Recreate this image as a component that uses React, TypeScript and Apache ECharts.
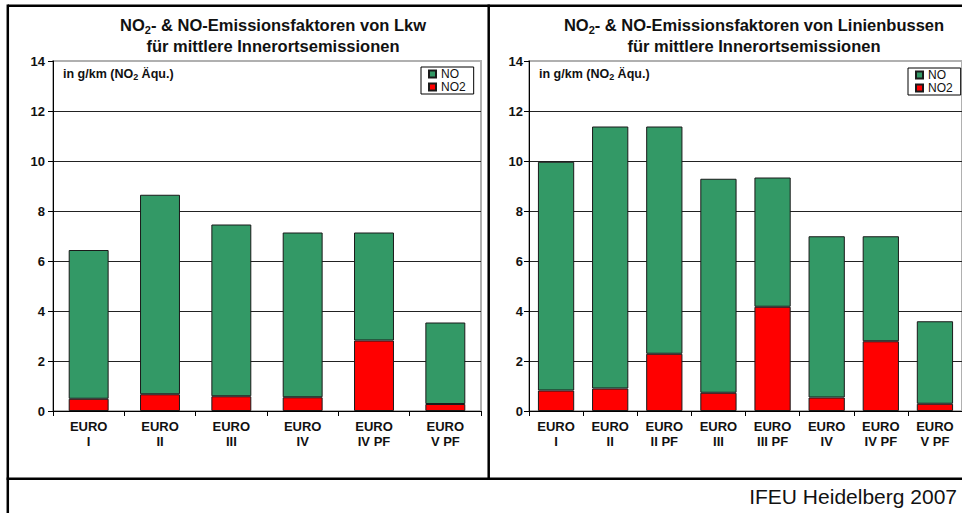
import React, { useEffect, useRef } from "react";
import * as echarts from "echarts";

const lkwCategories = ["EURO\nI", "EURO\nII", "EURO\nIII", "EURO\nIV", "EURO\nIV PF", "EURO\nV PF"];
const lkwNO2 = [0.49, 0.67, 0.59, 0.55, 2.82, 0.28];
const lkwNO = [5.95, 7.98, 6.87, 6.59, 4.32, 3.26];

const busCategories = ["EURO\nI", "EURO\nII", "EURO\nII PF", "EURO\nIII", "EURO\nIII PF", "EURO\nIV", "EURO\nIV PF", "EURO\nV PF"];
const busNO2 = [0.82, 0.9, 2.29, 0.73, 4.17, 0.54, 2.79, 0.29];
const busNO = [9.15, 10.48, 9.09, 8.56, 5.17, 6.45, 4.2, 3.3];

const yMin = 0;
const yMax = 14;
const yStep = 2;

const FONT = "'Liberation Sans', Arial, sans-serif";
const GREEN = "#339966";
const RED = "#ff0000";
const TXT = "#111111";

function titleRich(size: number) {
  return {
    b: { fontSize: size, fontWeight: "bold", fontFamily: FONT, fill: TXT, lineHeight: 21 },
    s: { fontSize: Math.round(size * 0.65), fontWeight: "bold", fontFamily: FONT, fill: TXT, verticalAlign: "bottom", lineHeight: 12 },
  } as any;
}

function xAxisCfg(gridIndex: number, data: string[]) {
  return {
    type: "category",
    gridIndex,
    data,
    axisLine: { show: true, lineStyle: { color: "#000", width: 1 } },
    axisTick: { show: true, length: 5, lineStyle: { color: "#000" } },
    axisLabel: {
      interval: 0,
      fontSize: 13,
      fontWeight: "bold",
      fontFamily: FONT,
      color: TXT,
      lineHeight: 15,
      margin: 8,
    },
    splitLine: { show: false },
  };
}

function yAxisCfg(gridIndex: number, margin: number) {
  return {
    type: "value",
    gridIndex,
    min: yMin,
    max: yMax,
    interval: yStep,
    axisLine: { show: true, lineStyle: { color: "#000", width: 1 } },
    axisTick: { show: true, length: 5, lineStyle: { color: "#000" } },
    axisLabel: { fontSize: 13, fontWeight: "bold", fontFamily: FONT, color: TXT, margin },
    splitLine: { show: true, showMinLine: false, showMaxLine: false, lineStyle: { color: "#222", width: 1 } },
  };
}

function barSeries(name: string, stack: string, idx: number, data: number[], color: string, gap: string) {
  return {
    type: "bar",
    name,
    stack,
    xAxisIndex: idx,
    yAxisIndex: idx,
    data,
    barCategoryGap: gap,
    itemStyle: { color, borderColor: "#1a1a1a", borderWidth: 1 },
    emphasis: { disabled: true },
  };
}

function legendCfg(left: number, top: number) {
  return {
    data: ["NO", "NO2"],
    left,
    top,
    orient: "vertical",
    icon: "rect",
    itemWidth: 7,
    itemHeight: 7,
    itemGap: 1,
    padding: [1, 8, 1, 7],
    borderColor: "#000",
    borderWidth: 1,
    backgroundColor: "#fff",
    textStyle: { fontSize: 12, fontFamily: FONT, color: TXT, lineHeight: 10 },
    selectedMode: false,
  };
}

export default function App() {
  const ref = useRef<HTMLDivElement>(null);
  useEffect(() => {
    if (!ref.current) return;
    const chart = echarts.init(ref.current, null, { renderer: "svg" });
    const lineStyle = { stroke: "#000", lineWidth: 2.5 };
    const yTitleRich = {
      b: { fontSize: 12.5, fontWeight: "bold", fontFamily: FONT, fill: TXT, lineHeight: 15 },
      s: { fontSize: 9, fontWeight: "bold", fontFamily: FONT, fill: TXT, verticalAlign: "bottom", lineHeight: 10 },
    } as any;
    chart.setOption({
      animation: false,
      backgroundColor: "#fff",
      grid: [
        { left: 53, top: 61, width: 428, height: 350, show: true, borderColor: "#b0b0b0", borderWidth: 2, backgroundColor: "#fff" },
        { left: 529, top: 61, width: 434, height: 350, show: true, borderColor: "#b0b0b0", borderWidth: 2, backgroundColor: "#fff" },
      ],
      xAxis: [xAxisCfg(0, lkwCategories), xAxisCfg(1, busCategories)],
      yAxis: [yAxisCfg(0, 8), yAxisCfg(1, 6)],
      legend: [legendCfg(421, 67), legendCfg(908, 68)],
      series: [
        barSeries("NO2", "lkw", 0, lkwNO2, RED, "44%"),
        barSeries("NO", "lkw", 0, lkwNO, GREEN, "44%"),
        barSeries("NO2", "bus", 1, busNO2, RED, "33%"),
        barSeries("NO", "bus", 1, busNO, GREEN, "33%"),
      ],
      graphic: [
        { type: "line", shape: { x1: 7.8, y1: 5.8, x2: 970, y2: 5.8 }, style: lineStyle, z: 100 },
        { type: "line", shape: { x1: 7.8, y1: 4.6, x2: 7.8, y2: 520 }, style: lineStyle, z: 100 },
        { type: "line", shape: { x1: 488.7, y1: 4.6, x2: 488.7, y2: 479.9 }, style: lineStyle, z: 100 },
        { type: "line", shape: { x1: 6.6, y1: 478.7, x2: 970, y2: 478.7 }, style: lineStyle, z: 100 },
        {
          type: "text",
          x: 273,
          y: 14,
          z: 100,
          style: {
            text: "{b|NO}{s|2}{b|- & NO-Emissionsfaktoren von Lkw}\n{b|für mittlere Innerortsemissionen}",
            rich: titleRich(16.5),
            align: "center",
            verticalAlign: "top",
          },
        },
        {
          type: "text",
          x: 754,
          y: 14,
          z: 100,
          style: {
            text: "{b|NO}{s|2}{b|- & NO-Emissionsfaktoren von Linienbussen}\n{b|für mittlere Innerortsemissionen}",
            rich: titleRich(16.5),
            align: "center",
            verticalAlign: "top",
          },
        },
        {
          type: "text",
          x: 63,
          y: 66,
          z: 100,
          style: { text: "{b|in g/km (NO}{s|2}{b| Äqu.)}", rich: yTitleRich, align: "left", verticalAlign: "top" },
        },
        {
          type: "text",
          x: 539,
          y: 66,
          z: 100,
          style: { text: "{b|in g/km (NO}{s|2}{b| Äqu.)}", rich: yTitleRich, align: "left", verticalAlign: "top" },
        },
        {
          type: "text",
          x: 957,
          y: 496.5,
          z: 100,
          style: {
            text: "IFEU Heidelberg 2007",
            fontSize: 21,
            fontFamily: FONT,
            fill: TXT,
            align: "right",
            verticalAlign: "middle",
          },
        },
      ],
    });
    return () => chart.dispose();
  }, []);
  return <div ref={ref} style={{ position: "absolute", left: 0, top: 0, width: 962, height: 513 }} />;
}
